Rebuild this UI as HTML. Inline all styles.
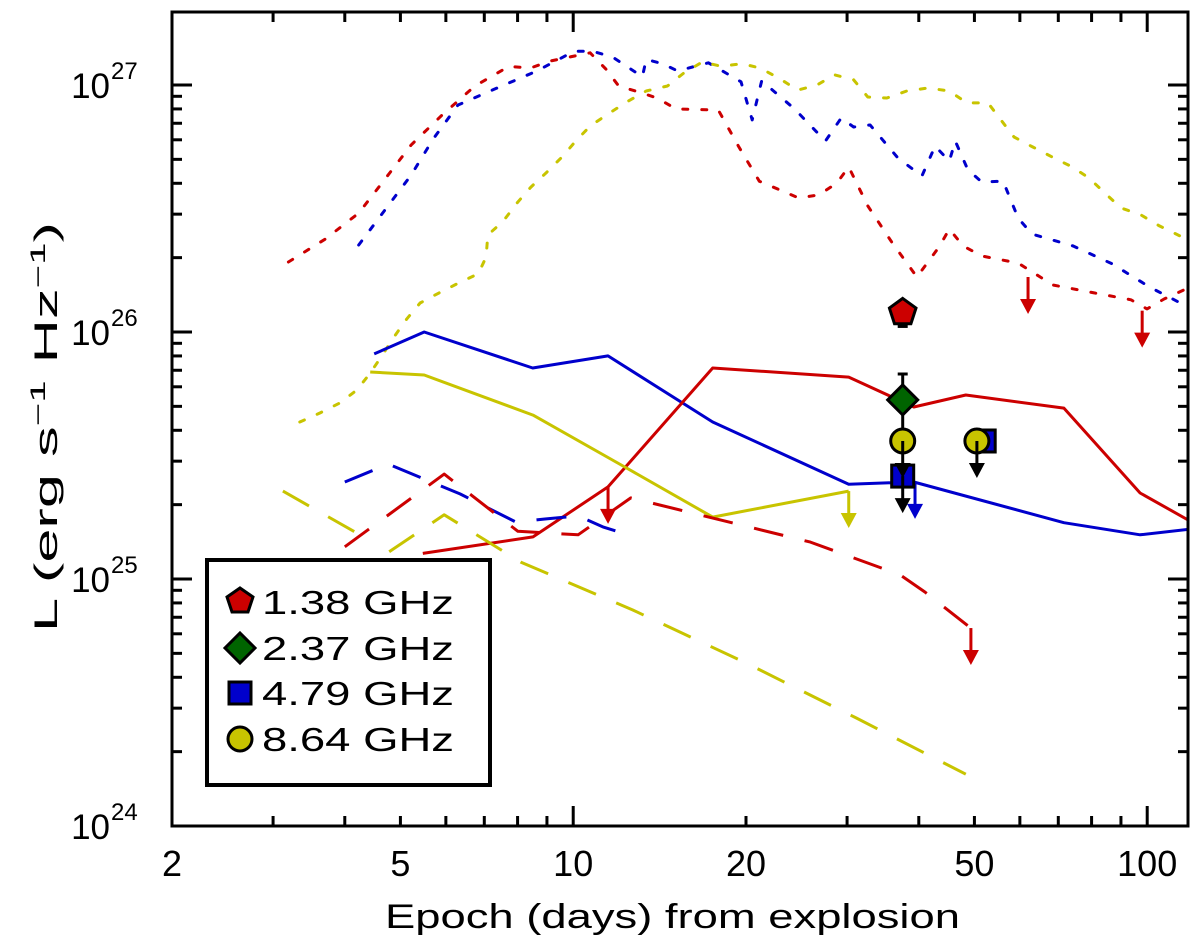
<!DOCTYPE html>
<html><head><meta charset="utf-8"><style>
html,body{margin:0;padding:0;background:#fff;}
svg{display:block;font-family:"Liberation Sans",sans-serif;}
</style></head><body>
<svg id="chart" width="1200" height="942" viewBox="0 0 1200 942" xmlns="http://www.w3.org/2000/svg"></svg>
<script>
// ---- data (days, luminosity in units of 1e25 erg/s/Hz) ----
const redDottedDays = [3.19,3.7,4.23,4.7,5.22,5.91,6.74,7.73,8.41,9.11,10.7,11.4,12.0,13.0,14.0,15.1,17.9,19.4,21.1,24.7,26.8,28.8,30.2,32.6,35.9,39.7,43.4,45.2,47.8,51.5,59.6,68.5,80.8,93.7,99.9,107,118];
const redDottedL = [19.2,23.8,30.3,41.6,57.2,75.6,99.1,119,117,125,135,116,99.1,93.7,88.6,80,79.2,56.6,40.8,34.9,35.9,40.1,46.6,32.4,23.1,16.7,22.1,26.1,22.3,20.3,19.0,15.5,14.4,13.5,12.4,13.6,15.1];
const blueDottedDays = [4.23,4.7,5.22,5.7,6.3,7.37,8.65,10.03,10.8,11.7,13.2,13.4,14.3,15.2,17.2,19.6,20.5,21.3,24.3,27.5,29.3,30.8,32.9,36.8,40.5,42.7,45.2,46.3,48.7,51.5,56.1,59.6,63.0,74.3,86.8,101,118];
const blueDottedL = [22.5,31.2,43.2,60.4,83.0,97.2,114,137,137,130,108,127,122,114,123,103,72.2,104,80,59.3,73.5,67.6,68.9,50.6,42.8,56.6,49.2,59.3,45.3,40.5,40.8,28.9,24.9,22.3,18.9,15.2,12.6];
const yellowDottedDays = [3.34,3.62,3.92,4.2,4.43,4.64,4.87,5.13,5.41,5.84,6.32,6.83,7.05,7.1,7.55,7.98,8.44,9.0,9.56,10.1,10.7,11.5,12.4,13.4,14.6,15.6,16.8,18.1,19.7,21.2,22.9,24.6,26.6,28.5,30.8,32.6,35.2,38.1,41.5,45.2,48.5,52.8,55.6,58.6,63.2,68.3,74.0,79.2,84.4,90.0,97.5,105,114,118];
const yellowDottedL = [4.32,4.7,5.16,5.83,6.82,8.0,9.54,11.3,13.1,14.4,15.8,17.2,20.1,24.7,28.1,33.3,38.6,44.4,51.1,59.3,68.2,76.3,85.4,94.6,99.1,112,124,119,122,117,106,95.4,100,110,105,89.4,88.6,94.6,97.2,94.6,84.6,84.6,72.2,61.6,56.1,51.1,46.6,42.0,36.5,31.8,29.8,26.9,24.5,23.1];
const blueSolidDays = [4.5,5.5,8.5,11.5,17.5,30.2,39.2,71.6,97.2,118];
const blueSolidL = [8.15,10.0,7.15,8.0,4.32,2.42,2.47,1.69,1.51,1.59];
const redSolidDays = [5.47,8.51,11.5,17.5,30.2,39.2,48.3,71.6,97.2,118];
const redSolidL = [1.27,1.48,2.36,7.15,6.57,4.97,5.56,4.92,2.23,1.73];
const yellowSolidDays = [4.43,5.5,8.51,12.3,17.5,30.2];
const yellowSolidL = [6.89,6.70,4.61,2.84,1.78,2.27];
const blueDashedDays = [4.0,4.76,6.35,7.95,8.93,10.2,11.3,12.8];
const blueDashedL = [2.47,2.92,2.21,1.70,1.75,1.80,1.62,1.48];
const redDashedDays = [4.0,5.96,8.01,10.2,12.6,16.6,25.9,37.1,41.0,49.3];
const redDashedL = [1.35,2.66,1.56,1.51,2.13,1.82,1.41,1.04,0.886,0.633];
const yellowDashedADays = [3.12,4.43];
const yellowDashedAL = [2.27,1.43];
const yellowDashedBDays = [4.78,5.96,8.11,12.7,20.0,31.1,48.3];
const yellowDashedBL = [1.29,1.82,1.17,0.749,0.457,0.274,0.162];
// upper-limit arrows on model curves
const limitDays = [11.5,30.2,49.3,62.0,98.0];
const limitL = [2.36,2.27,0.633,16.7,12.2];
const limitColor = ['#cc0000','#c8c400','#cc0000','#cc0000','#cc0000'];
// observations
const obsDays = [37.5,37.5,37.5,37.5,52.0,50.5];
const obsL = [12.0,5.31,3.62,2.61,3.62,3.62];
const obsShape = ['pentagon','diamond','circle','square','square','circle'];
const obsUpper = [false,false,true,true,false,true];
const blueLimDays = [39.4];
const blueLimL = [2.45];
const xTicks = [2,5,10,20,50,100];
const yTickExp = [24,25,26,27];

// ---- axes ----
const X0=172, X1=1188, Y0=826, Y1=12;
const XDEC=574, YDEC=247;
function sx(d){return X0+XDEC*Math.log10(d/2);}
function sy(l25){return Y0-YDEC*(Math.log10(l25*1e25)-24);}
const NS='http://www.w3.org/2000/svg';
const svg=document.getElementById('chart');
function mk(tag,attrs,parent){const e=document.createElementNS(NS,tag);for(const k in attrs)e.setAttribute(k,attrs[k]);(parent||svg).appendChild(e);return e;}

const defs=mk('defs',{});
const cp=mk('clipPath',{id:'plotclip'},defs);
mk('rect',{x:X0,y:Y1,width:X1-X0,height:Y0-Y1},cp);
const plot=mk('g',{'clip-path':'url(#plotclip)'});



function series(days,vals,color,dash,name){
  const pts=days.map((d,i)=>sx(d).toFixed(1)+','+sy(vals[i]).toFixed(1)).join(' ');
  const p=mk('polyline',{points:pts,fill:'none',stroke:color,'stroke-width':3,'stroke-linecap':dash==='dot'?'round':'butt','stroke-linejoin':'round'},plot);
  if(dash==='dot')p.setAttribute('stroke-dasharray','5 14');
  if(dash==='dash')p.setAttribute('stroke-dasharray','30 22');
  
  
}
const RED='#cc0000',BLUE='#0000cc',YEL='#c8c400';
series(redDottedDays,redDottedL,RED,'dot','red-dotted-line');
series(blueDottedDays,blueDottedL,BLUE,'dot','blue-dotted-line');
series(yellowDottedDays,yellowDottedL,YEL,'dot','yellow-dotted-line');
series(blueSolidDays,blueSolidL,BLUE,'solid','blue-solid-line');
series(redSolidDays,redSolidL,RED,'solid','red-solid-line');
series(yellowSolidDays,yellowSolidL,YEL,'solid','yellow-solid-line');
series(blueDashedDays,blueDashedL,BLUE,'dash','blue-dashed-line');
series(redDashedDays,redDashedL,RED,'dash','red-dashed-line');
series(yellowDashedADays,yellowDashedAL,YEL,'dash','yellow-dashed-line-a');
series(yellowDashedBDays,yellowDashedBL,YEL,'dash','yellow-dashed-line-b');

function arrow(x,y,color,len,name){
  const g=mk('g',{},plot);
  
  
  mk('line',{x1:x,y1:y,x2:x,y2:y+len-12,stroke:color,'stroke-width':3},g);
  mk('polygon',{points:`${x-8},${y+len-15} ${x+8},${y+len-15} ${x},${y+len}`,fill:color},g);
}
limitDays.forEach((d,i)=>arrow(sx(d),sy(limitL[i]),limitColor[i],37,'upper-limit-arrow'));
blueLimDays.forEach((d,i)=>arrow(sx(d),sy(blueLimL[i]),BLUE,36,'blue-limit-arrow'));

function marker(shape,x,y,parent){
  const st={stroke:'#000','stroke-width':3};
  let e;
  if(shape==='pentagon'){const r=14;let p=[];for(let k=0;k<5;k++){const a=-Math.PI/2+k*2*Math.PI/5;p.push((x+r*Math.cos(a)).toFixed(1)+','+(y+r*Math.sin(a)).toFixed(1));}
    e=mk('polygon',Object.assign({points:p.join(' '),fill:'#cc0000'},st),parent);}
  else if(shape==='diamond'){e=mk('polygon',Object.assign({points:`${x},${y-15} ${x+15},${y} ${x},${y+15} ${x-15},${y}`,fill:'#006400'},st),parent);}
  else if(shape==='square'){e=mk('rect',Object.assign({x:x-11,y:y-11,width:22,height:22,fill:'#0000cc'},st),parent);}
  else {e=mk('circle',Object.assign({cx:x,cy:y,r:12,fill:'#c8c400'},st),parent);}
  return e;
}
const eb=mk('g',{},plot);


mk('line',{x1:sx(37.5),y1:sy(12.0),x2:sx(37.5),y2:sy(12.0)+14,stroke:'#000','stroke-width':3},eb);
mk('line',{x1:sx(37.5)-5,y1:sy(12.0)+14,x2:sx(37.5)+5,y2:sy(12.0)+14,stroke:'#000','stroke-width':3},eb);
mk('line',{x1:sx(37.5),y1:sy(5.31),x2:sx(37.5),y2:sy(6.76),stroke:'#000','stroke-width':3},eb);
mk('line',{x1:sx(37.5)-5,y1:sy(6.76),x2:sx(37.5)+5,y2:sy(6.76),stroke:'#000','stroke-width':3},eb);
mk('line',{x1:sx(37.5),y1:sy(5.31),x2:sx(37.5),y2:sy(3.62),stroke:'#000','stroke-width':3},eb);
const order=[4,5,3,2,1,0];
order.forEach(i=>{
  const x=sx(obsDays[i]),y=sy(obsL[i]);
  const g=mk('g',{},plot);
  
  
  if(obsUpper[i]) arrow(x,y,'#000',37,'observation-limit-arrow');
  marker(obsShape[i],x,y,g);
});

const ax=mk('g',{});


mk('rect',{x:X0,y:Y1,width:X1-X0,height:Y0-Y1,fill:'none',stroke:'#000','stroke-width':3},ax);
for(let dec=1;dec<=100;dec*=10){for(let m=1;m<10;m++){const v=m*dec;if(v<2||v>118)continue;const x=sx(v);const major=(m===1);const L=major?20:10;
  mk('line',{x1:x,y1:Y0,x2:x,y2:Y0-L,stroke:'#000','stroke-width':3},ax);
  mk('line',{x1:x,y1:Y1,x2:x,y2:Y1+L,stroke:'#000','stroke-width':3},ax);}}
for(let e=24;e<=27;e++){for(let m=1;m<10;m++){const l25=m*Math.pow(10,e-25);const y=sy(l25);if(y<Y1)continue;const L=(m===1)?20:10;
  mk('line',{x1:X0,y1:y,x2:X0+L,y2:y,stroke:'#000','stroke-width':3},ax);
  mk('line',{x1:X1,y1:y,x2:X1-L,y2:y,stroke:'#000','stroke-width':3},ax);}}
xTicks.forEach(v=>{const t=mk('text',{x:sx(v),y:876,'font-size':36,'text-anchor':'middle',fill:'#000'},ax);t.textContent=v;
  
  });
yTickExp.forEach(e=>{const y=sy(Math.pow(10,e-25));const t=mk('text',{x:110,y:y+13,'font-size':35,'text-anchor':'end',fill:'#000'},ax);t.textContent='10';
  
  
  const s=mk('text',{x:111,y:y-6,'font-size':24,fill:'#000'},ax);s.textContent=e;
  
  });
</script>
<svg style="position:absolute;left:0;top:0" width="1200" height="942">
<text x="385" y="928" font-size="34" textLength="575" lengthAdjust="spacingAndGlyphs" font-family="Liberation Sans, sans-serif">Epoch (days) from explosion</text>
<text transform="translate(57,632) rotate(-90)" font-size="32" textLength="410" lengthAdjust="spacingAndGlyphs" font-family="Liberation Sans, sans-serif">L (erg s<tspan dy="-12" font-size="21">−1</tspan><tspan dy="12"> Hz</tspan><tspan dy="-12" font-size="21">−1</tspan><tspan dy="12">)</tspan></text>
<g>
<rect x="207" y="560" width="283" height="225" fill="#fff" stroke="#000" stroke-width="4"/>
<g>
<polygon points="240,588 253,597 248,612 232,612 227,597" fill="#cc0000" stroke="#000" stroke-width="3"/>
<text x="262" y="614" font-size="33" textLength="192" lengthAdjust="spacingAndGlyphs" font-family="Liberation Sans, sans-serif">1.38  GHz</text></g>
<g>
<polygon points="240,633 255,648 240,663 225,648" fill="#006400" stroke="#000" stroke-width="3"/>
<text x="262" y="660" font-size="33" textLength="192" lengthAdjust="spacingAndGlyphs" font-family="Liberation Sans, sans-serif">2.37  GHz</text></g>
<g>
<rect x="229" y="682" width="22" height="22" fill="#0000cc" stroke="#000" stroke-width="3"/>
<text x="262" y="705" font-size="33" textLength="192" lengthAdjust="spacingAndGlyphs" font-family="Liberation Sans, sans-serif">4.79  GHz</text></g>
<g>
<circle cx="240" cy="739" r="12" fill="#c8c400" stroke="#000" stroke-width="3"/>
<text x="262" y="751" font-size="33" textLength="192" lengthAdjust="spacingAndGlyphs" font-family="Liberation Sans, sans-serif">8.64  GHz</text></g>
</g>
</svg>
</body></html>
